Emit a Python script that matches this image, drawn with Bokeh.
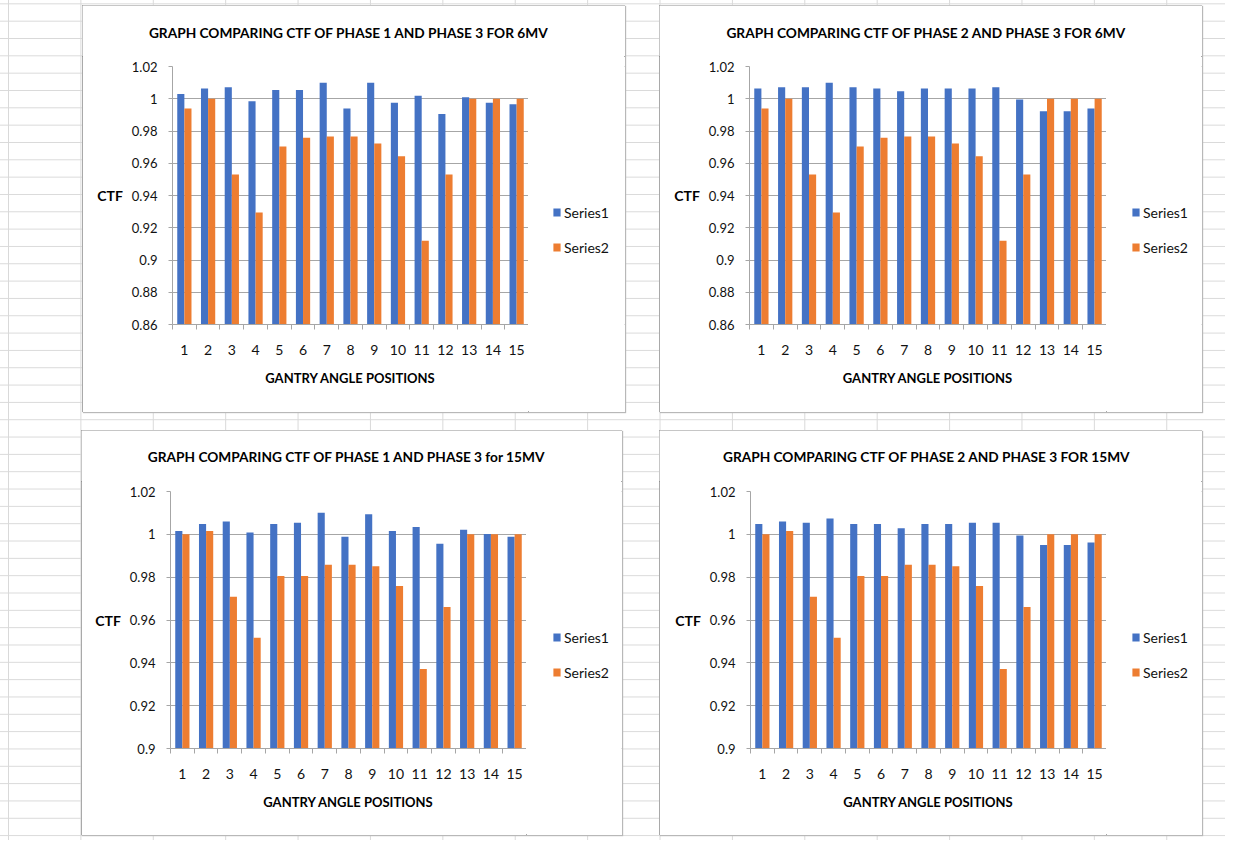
from bokeh.plotting import figure
from bokeh.models import (Range1d, FixedTicker, CustomJSTickFormatter, Legend,
                          LegendItem, ColumnDataSource, Spacer, Label)
from bokeh.transform import dodge
from bokeh.layouts import row, column
from bokeh.embed import file_html
from bokeh.resources import INLINE

# ---------------- data ----------------
angles = list(range(1, 16))
angle_bounds = [0.5 + i for i in range(16)]
series_names = ["Series1", "Series2"]

titles = [
    "GRAPH COMPARING  CTF OF PHASE 1 AND PHASE 3 FOR 6MV",
    "GRAPH COMPARING  CTF OF PHASE 2 AND PHASE 3 FOR 6MV",
    "GRAPH COMPARING  CTF OF PHASE 1 AND PHASE 3 for 15MV",
    "GRAPH COMPARING  CTF OF PHASE 2 AND PHASE 3 FOR 15MV",
]
x_label = "GANTRY ANGLE POSITIONS"
y_label = "CTF"

y_ticks_6mv = [0.86, 0.88, 0.90, 0.92, 0.94, 0.96, 0.98, 1.00, 1.02]
y_ticks_15mv = [0.90, 0.92, 0.94, 0.96, 0.98, 1.00, 1.02]

# 6MV
phase1_vs3_6mv_s1 = [1.003, 1.0064, 1.0072, 0.9985, 1.0055, 1.0055, 1.0099, 0.9940,
                     1.0099, 0.9975, 1.0018, 0.9906, 1.0010, 0.9975, 0.9966]
phase1_vs3_6mv_s2 = [0.994, 1.000, 0.953, 0.9295, 0.9704, 0.9758, 0.9766, 0.9766,
                     0.9722, 0.9644, 0.9119, 0.953, 1.000, 1.000, 1.000]
phase2_vs3_6mv_s1 = [1.0064, 1.0072, 1.0072, 1.0099, 1.0072, 1.0064, 1.0047, 1.0064,
                     1.0064, 1.0064, 1.0072, 0.9995, 0.9923, 0.9923, 0.9940]
phase2_vs3_6mv_s2 = [0.994, 1.000, 0.953, 0.9295, 0.9704, 0.9758, 0.9766, 0.9766,
                     0.9722, 0.9644, 0.9119, 0.953, 1.000, 1.000, 1.000]
# 15MV
phase1_vs3_15mv_s1 = [1.0015, 1.0048, 1.0060, 1.0009, 1.0048, 1.0054, 1.0101, 0.9989,
                      1.0094, 1.0015, 1.0034, 0.9956, 1.0021, 1.0001, 0.9989]
phase1_vs3_15mv_s2 = [1.000, 1.0015, 0.9708, 0.9517, 0.9806, 0.9806, 0.9858, 0.9858,
                      0.9851, 0.9759, 0.9371, 0.9661, 1.000, 1.000, 1.000]
phase2_vs3_15mv_s1 = [1.0048, 1.0060, 1.0054, 1.0074, 1.0048, 1.0048, 1.0028, 1.0048,
                      1.0048, 1.0054, 1.0054, 0.9995, 0.9950, 0.9950, 0.9962]
phase2_vs3_15mv_s2 = [1.000, 1.0015, 0.9708, 0.9517, 0.9806, 0.9806, 0.9858, 0.9858,
                      0.9851, 0.9759, 0.9371, 0.9661, 1.000, 1.000, 1.000]

# ---------------- style ----------------
FONT = "Lato"
BLUE = "#4472C4"
ORANGE = "#ED7D31"
GRID = "#a6a6a6"
TXT = "#111111"
TITLE_H = 51


def bare_fig(w, h, xr, yr):
    f = figure(width=w, height=h, output_backend="svg", toolbar_location=None,
               x_range=Range1d(*xr), y_range=Range1d(*yr),
               x_axis_location=None, y_axis_location=None,
               min_border_left=0, min_border_right=0, min_border_top=0,
               min_border_bottom=0, outline_line_color=None,
               background_fill_color="white", border_fill_color="white")
    f.grid.visible = False
    return f


def make_chart(title, s1, s2, yticks, w, h, bl, frame_w, frame_h, title_y, leg_loc):
    # ---- title strip ----
    tf = bare_fig(w, TITLE_H, (0, w), (0, TITLE_H))
    tf.add_layout(Label(x=bl + frame_w / 2, y=title_y, text=title, text_font=FONT,
                        text_font_size="13.7px", text_font_style="bold",
                        text_color="#000000", text_align="center",
                        text_baseline="middle"))

    # ---- plot ----
    ph = h - TITLE_H
    pw = bl + frame_w
    src = ColumnDataSource(dict(x=angles, s1=s1, s2=s2))
    p = figure(width=pw, height=ph, output_backend="svg", toolbar_location=None,
               x_range=Range1d(angle_bounds[0], angle_bounds[-1]),
               y_range=Range1d(yticks[0], yticks[-1]),
               min_border_left=bl, min_border_top=10, min_border_right=0,
               min_border_bottom=ph - 10 - frame_h,
               background_fill_color="white", border_fill_color="white",
               outline_line_color=None)
    p.vbar(x=dodge("x", -0.15), top="s1", bottom=yticks[0], width=0.3,
           source=src, fill_color=BLUE, line_color=None)
    p.vbar(x=dodge("x", 0.15), top="s2", bottom=yticks[0], width=0.3,
           source=src, fill_color=ORANGE, line_color=None)

    xa = p.xaxis[0]
    xa.ticker = FixedTicker(ticks=angles, minor_ticks=angle_bounds)
    xa.major_tick_out = 0
    xa.major_tick_in = 0
    xa.minor_tick_out = 5
    xa.minor_tick_in = 0
    xa.minor_tick_line_color = GRID
    xa.axis_line_color = GRID
    xa.major_label_standoff = 15
    xa.major_label_text_font = FONT
    xa.major_label_text_font_size = "14px"
    xa.major_label_text_color = TXT
    xa.axis_label = x_label
    xa.axis_label_text_font = FONT
    xa.axis_label_text_font_size = "13px"
    xa.axis_label_text_font_style = "bold"
    xa.axis_label_text_color = "#000000"
    xa.axis_label_standoff = 12

    ya = p.yaxis[0]
    ya.ticker = FixedTicker(ticks=yticks)
    ya.formatter = CustomJSTickFormatter(code="return String(Number(tick.toFixed(2)));")
    ya.major_tick_out = 4
    ya.major_tick_in = 0
    ya.minor_tick_line_color = None
    ya.major_tick_line_color = GRID
    ya.axis_line_color = GRID
    ya.major_label_standoff = 11
    ya.major_label_text_font = FONT
    ya.major_label_text_font_size = "13px"
    ya.major_label_text_color = TXT
    ya.axis_label = y_label
    ya.axis_label_orientation = "horizontal"
    ya.axis_label_text_font = FONT
    ya.axis_label_text_font_size = "14px"
    ya.axis_label_text_font_style = "bold"
    ya.axis_label_text_color = "#000000"
    ya.axis_label_standoff = 6

    p.xgrid.grid_line_color = None
    p.ygrid.grid_line_color = GRID
    p.ygrid.ticker = FixedTicker(ticks=yticks)

    # ---- legend strip (its frame lines up with the plot frame) ----
    lw = w - pw
    lf = bare_fig(lw, ph, (100, 101), (yticks[0], yticks[-1]))
    k1 = lf.vbar(x=dodge("x", -0.15), top="s1", bottom=yticks[0], width=0.3,
                 source=src, fill_color=BLUE, line_color=None, visible=False)
    k2 = lf.vbar(x=dodge("x", 0.15), top="s2", bottom=yticks[0], width=0.3,
                 source=src, fill_color=ORANGE, line_color=None, visible=False)
    legend = Legend(items=[LegendItem(label=series_names[0], renderers=[k1]),
                           LegendItem(label=series_names[1], renderers=[k2])],
                    location=leg_loc, orientation="vertical", padding=0, margin=0,
                    spacing=17, glyph_width=9, glyph_height=10, label_height=18,
                    label_standoff=3, label_text_font=FONT,
                    label_text_font_size="14px", label_text_color=TXT,
                    border_line_color=None, background_fill_alpha=0,
                    click_policy="none", inactive_fill_alpha=0)
    lf.add_layout(legend, "center")

    return column(tf, row(p, lf), width=w, height=h,
                  styles={"outline": "1px solid #8c8c8c", "outline-offset": "-1px",
                          "box-shadow": "1px 1px 1px #b8b8b8",
                          "background-color": "white"})


c1 = make_chart(titles[0], phase1_vs3_6mv_s1, phase1_vs3_6mv_s2, y_ticks_6mv,
                543, 407, 90, 356, 258, 24, (24, 68))
c2 = make_chart(titles[1], phase2_vs3_6mv_s1, phase2_vs3_6mv_s2, y_ticks_6mv,
                543, 407, 90, 357, 258, 24, (25, 68))
c3 = make_chart(titles[2], phase1_vs3_15mv_s1, phase1_vs3_15mv_s2, y_ticks_15mv,
                541, 405, 89, 356, 257, 25, (26, 67))
c4 = make_chart(titles[3], phase2_vs3_15mv_s1, phase2_vs3_15mv_s2, y_ticks_15mv,
                543, 405, 91, 356, 257, 25, (25, 67))

row1 = row(Spacer(width=82, height=407), c1, Spacer(width=34, height=407), c2)
row2 = row(Spacer(width=81, height=405), c3, Spacer(width=37, height=405), c4)

layout = column(Spacer(width=10, height=5), row1, Spacer(width=10, height=18), row2,
                width=1225, height=840,
                styles={
                    "background-color": "white",
                    "background-image": "linear-gradient(to bottom, #d9d9d9 0px, #d9d9d9 1px, transparent 1px), "
                                        "linear-gradient(to right, #d9d9d9 0px, #d9d9d9 1px, transparent 1px)",
                    "background-size": "100% 17.33px, 72.4px 100%",
                    "background-position": "0px 3.37px, 8px 0px",
                })

open("out.html", "w").write(file_html(layout, INLINE))
